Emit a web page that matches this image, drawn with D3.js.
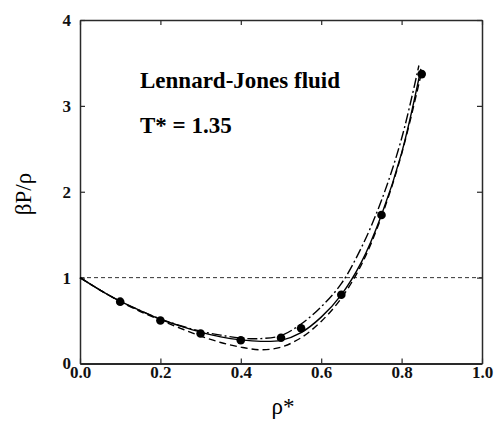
<!DOCTYPE html>
<html>
<head>
<meta charset="utf-8">
<script src="https://cdn.jsdelivr.net/npm/d3@7"></script>
</head>
<body style="margin:0">
<svg id="chart" width="494" height="422"></svg>
<script>
// data
const xTicks = [0.0, 0.2, 0.4, 0.6, 0.8, 1.0];
const yTicks = [0, 1, 2, 3, 4];

// simulation points
const simRho = [0.1, 0.2, 0.3, 0.4, 0.5, 0.55, 0.65, 0.75, 0.85];
const simP   = [0.72, 0.50, 0.35, 0.27, 0.30, 0.41, 0.80, 1.73, 3.37];

// solid curve
const solidRho = [0, 0.05, 0.1, 0.15, 0.2, 0.25, 0.3, 0.35, 0.4, 0.45, 0.5, 0.55, 0.6, 0.65, 0.7, 0.75, 0.8, 0.848];
const solidP   = [1.0, 0.855, 0.725, 0.615, 0.515, 0.435, 0.365, 0.31, 0.275, 0.258, 0.27, 0.36, 0.54, 0.80, 1.18, 1.73, 2.45, 3.43];

// dashed curve
const dashRho = [0, 0.05, 0.1, 0.15, 0.2, 0.25, 0.3, 0.35, 0.4, 0.45, 0.5, 0.55, 0.6, 0.65, 0.7, 0.75, 0.8, 0.85];
const dashP   = [1.0, 0.855, 0.72, 0.605, 0.505, 0.41, 0.32, 0.245, 0.19, 0.16, 0.19, 0.30, 0.49, 0.76, 1.15, 1.71, 2.44, 3.40];

// dash-dot curve
const dotRho = [0, 0.05, 0.1, 0.15, 0.2, 0.25, 0.3, 0.35, 0.4, 0.45, 0.5, 0.55, 0.6, 0.65, 0.7, 0.75, 0.8, 0.843];
const dotP   = [1.0, 0.855, 0.725, 0.615, 0.52, 0.44, 0.375, 0.33, 0.295, 0.29, 0.325, 0.46, 0.66, 0.93, 1.35, 1.90, 2.62, 3.47];

const svg = d3.select("#chart");
const margin = {left: 80, top: 20, right: 12, bottom: 58.5};
const W = 494 - margin.left - margin.right;
const H = 422 - margin.top - margin.bottom;

const x = d3.scaleLinear().domain([0, 1]).range([0, W]);
const y = d3.scaleLinear().domain([0, 4]).range([H, 0]);

const g = svg.append("g").attr("transform", `translate(${margin.left},${margin.top})`);

const fontName = "Times New Roman";
const axisCol = "#2a2a2a";

// axes, ticks pointing inward
const xb = g.append("g").attr("transform", `translate(0,${H})`)
  .call(d3.axisBottom(x).tickValues(xTicks).tickFormat(d3.format(".1f")).tickSizeInner(-5).tickSizeOuter(0).tickPadding(2));
const xt = g.append("g")
  .call(d3.axisTop(x).tickValues(xTicks).tickFormat("").tickSizeInner(-5).tickSizeOuter(0));
const yl = g.append("g")
  .call(d3.axisLeft(y).tickValues(yTicks).tickFormat(d3.format("d")).tickSizeInner(-5).tickSizeOuter(0).tickPadding(9));
const yr = g.append("g").attr("transform", `translate(${W},0)`)
  .call(d3.axisRight(y).tickValues(yTicks).tickFormat("").tickSizeInner(-5).tickSizeOuter(0));

[xb, xt, yl, yr].forEach(a => {
  a.select(".domain").attr("stroke", axisCol).attr("stroke-width", 1.5);
  a.selectAll(".tick line").attr("stroke", axisCol).attr("stroke-width", 1.2);
});
xb.select(".domain").attr("stroke-width", 2);
[xb, yl].forEach(a => a
  .attr("font-family", fontName)
  .attr("font-size", 17)
  .attr("font-weight", "bold")
  .selectAll("text").attr("fill", "#111"));

// reference line at 1
g.append("line")
  .attr("x1", x(0)).attr("x2", x(1))
  .attr("y1", y(1)).attr("y2", y(1))
  .attr("stroke", "#333").attr("stroke-width", 1).attr("stroke-dasharray", "4,3");

const line = d3.line().x(d => x(d[0])).y(d => y(d[1])).curve(d3.curveCatmullRom);

// curves
const curves = [
  {rho: dashRho, p: dashP, dash: "7,4"},
  {rho: dotRho, p: dotP, dash: "10,3,2,3"},
  {rho: solidRho, p: solidP, dash: null}
];
curves.forEach(c => {
  g.append("path")
    .datum(d3.zip(c.rho, c.p))
    .attr("d", line)
    .attr("fill", "none")
    .attr("stroke", "#000")
    .attr("stroke-width", 1.4)
    .attr("stroke-dasharray", c.dash);
});

// points
g.selectAll("circle.sim")
  .data(d3.zip(simRho, simP))
  .join("circle")
  .attr("class", "sim")
  .attr("cx", d => x(d[0]))
  .attr("cy", d => y(d[1]))
  .attr("r", 4.3)
  .attr("fill", "#000");

// labels inside plot
g.append("text")
  .attr("x", 140 - margin.left).attr("y", 88 - margin.top)
  .attr("font-family", fontName).attr("font-size", 23).attr("font-weight", "bold")
  .text("Lennard-Jones fluid");
g.append("text")
  .attr("x", 140 - margin.left).attr("y", 133 - margin.top)
  .attr("font-family", fontName).attr("font-size", 23).attr("font-weight", "bold")
  .text("T* = 1.35");

// axis titles
svg.append("text")
  .attr("transform", "translate(31,194) rotate(-90)")
  .attr("text-anchor", "middle")
  .attr("font-family", fontName).attr("font-size", 23)
  .text("βP/ρ");
svg.append("text")
  .attr("x", 283).attr("y", 414)
  .attr("text-anchor", "middle")
  .attr("font-family", fontName).attr("font-size", 23)
  .text("ρ*");
</script>
</body>
</html>
